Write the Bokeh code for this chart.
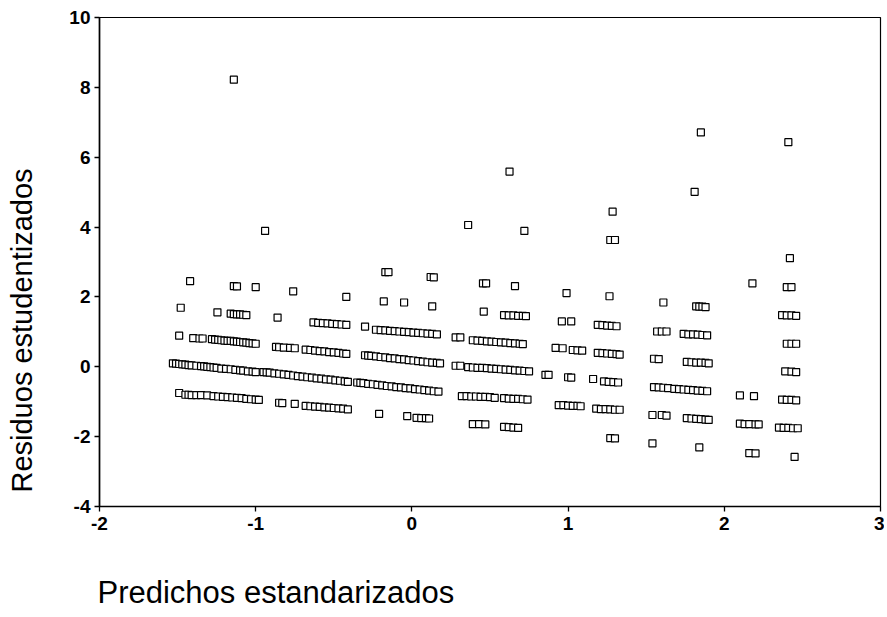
import math
from bokeh.plotting import figure
from bokeh.models import Range1d, FixedTicker, Label
from bokeh.embed import file_html
from bokeh.resources import INLINE

# ---------------- data ----------------
x_ticks = [-2, -1, 0, 1, 2, 3]
y_ticks = [-4, -2, 0, 2, 4, 6, 8, 10]
x_title = "Predichos estandarizados"
y_title = "Residuos estudentizados"

# group 1 : predicted -1.53 .. -0.98
x_g1 = [-1.14, -1.42, -1.14, -1.12, -1.00,
        -1.48, -1.245, -1.16, -1.14, -1.12, -1.10, -1.08, -1.06,
        -1.49, -1.40, -1.36, -1.34, -1.28, -1.26, -1.24, -1.22, -1.20, -1.18, -1.16, -1.14, -1.12, -1.10, -1.08, -1.06, -1.04, -1.02, -1.00,
        -1.53, -1.51, -1.49, -1.47, -1.45, -1.43, -1.41, -1.38, -1.35, -1.33, -1.31, -1.29, -1.27, -1.25, -1.22, -1.19, -1.16, -1.13, -1.10, -1.08, -1.05, -1.02, -1.00,
        -1.49, -1.45, -1.43, -1.41, -1.38, -1.35, -1.31, -1.27, -1.24, -1.21, -1.18, -1.15, -1.12, -1.09, -1.06, -1.03, -1.00, -0.98]
y_g1 = [8.22, 2.45, 2.31, 2.30, 2.28,
        1.69, 1.56, 1.52, 1.51, 1.50, 1.50, 1.49, 1.48,
        0.89, 0.82, 0.81, 0.81, 0.79, 0.78, 0.77, 0.76, 0.75, 0.74, 0.74, 0.73, 0.72, 0.71, 0.70, 0.69, 0.68, 0.67, 0.66,
        0.10, 0.09, 0.08, 0.07, 0.06, 0.05, 0.04, 0.03, 0.02, 0.01, 0.00, -0.01, -0.02, -0.03, -0.05, -0.06, -0.07, -0.09, -0.10, -0.11, -0.13, -0.14, -0.15,
        -0.75, -0.80, -0.80, -0.81, -0.81, -0.81, -0.82, -0.84, -0.85, -0.86, -0.87, -0.88, -0.89, -0.90, -0.92, -0.93, -0.94, -0.95]

# group 2 : predicted -0.95 .. -0.41
x_g2 = [-0.94, -0.76, -0.42, -0.86,
        -0.63, -0.60, -0.57, -0.54, -0.51, -0.48, -0.45, -0.42,
        -0.87, -0.85, -0.82, -0.78, -0.75, -0.68, -0.65, -0.62, -0.59, -0.56, -0.53, -0.50, -0.47, -0.44, -0.42,
        -0.95, -0.93, -0.91, -0.88, -0.85, -0.82, -0.79, -0.76, -0.73, -0.70, -0.67, -0.64, -0.61, -0.58, -0.55, -0.52, -0.49, -0.46, -0.43, -0.41,
        -0.85, -0.83, -0.75, -0.68, -0.65, -0.62, -0.59, -0.56, -0.53, -0.50, -0.47, -0.44, -0.41]
y_g2 = [3.89, 2.16, 2.00, 1.41,
        1.27, 1.26, 1.25, 1.24, 1.23, 1.22, 1.21, 1.20,
        0.57, 0.56, 0.55, 0.54, 0.53, 0.49, 0.48, 0.46, 0.45, 0.44, 0.42, 0.41, 0.40, 0.38, 0.37,
        -0.15, -0.16, -0.17, -0.19, -0.20, -0.22, -0.23, -0.25, -0.27, -0.28, -0.30, -0.31, -0.33, -0.34, -0.36, -0.37, -0.39, -0.40, -0.42, -0.43,
        -1.03, -1.04, -1.06, -1.12, -1.13, -1.14, -1.15, -1.16, -1.17, -1.18, -1.19, -1.20, -1.22]

# group 3 : predicted -0.35 .. 0.18
x_g3 = [-0.17, -0.15, 0.12, 0.14, -0.18, -0.05, 0.13,
        -0.30, -0.23, -0.20, -0.17, -0.14, -0.11, -0.08, -0.05, -0.02, 0.01, 0.04, 0.07, 0.10, 0.13, 0.16,
        -0.30, -0.28, -0.26, -0.23, -0.20, -0.17, -0.14, -0.11, -0.08, -0.05, -0.02, 0.01, 0.04, 0.07, 0.10, 0.13, 0.16, 0.18,
        -0.35, -0.33, -0.31, -0.28, -0.25, -0.22, -0.19, -0.16, -0.13, -0.10, -0.07, -0.04, -0.01, 0.02, 0.05, 0.08, 0.11, 0.14, 0.17,
        -0.21, -0.03, 0.03, 0.06, 0.09, 0.11]
y_g3 = [2.71, 2.71, 2.57, 2.56, 1.87, 1.84, 1.73,
        1.15, 1.06, 1.05, 1.04, 1.03, 1.02, 1.01, 1.00, 0.99, 0.98, 0.97, 0.96, 0.95, 0.94, 0.93,
        0.33, 0.32, 0.31, 0.30, 0.28, 0.27, 0.25, 0.24, 0.22, 0.21, 0.19, 0.18, 0.16, 0.15, 0.13, 0.12, 0.11, 0.10,
        -0.45, -0.46, -0.47, -0.49, -0.50, -0.52, -0.53, -0.55, -0.56, -0.58, -0.59, -0.61, -0.62, -0.64, -0.65, -0.67, -0.68, -0.70, -0.71,
        -1.35, -1.41, -1.46, -1.47, -1.47, -1.48]

# group 4 : predicted 0.28 .. 0.75
x_g4 = [0.36, 0.625, 0.72, 0.455, 0.475, 0.66, 0.46,
        0.59, 0.62, 0.65, 0.68, 0.71, 0.73,
        0.28, 0.31, 0.39, 0.42, 0.45, 0.48, 0.51, 0.54, 0.57, 0.60, 0.63, 0.66, 0.69, 0.71,
        0.28, 0.31, 0.36, 0.39, 0.42, 0.45, 0.48, 0.51, 0.54, 0.57, 0.60, 0.63, 0.66, 0.69, 0.72, 0.75,
        0.32, 0.35, 0.38, 0.41, 0.44, 0.47, 0.50, 0.53, 0.59, 0.62, 0.65, 0.68, 0.71, 0.74,
        0.39, 0.43, 0.47, 0.59, 0.62, 0.65, 0.68]
y_g4 = [4.06, 5.59, 3.89, 2.39, 2.39, 2.31, 1.58,
        1.48, 1.47, 1.47, 1.46, 1.46, 1.45,
        0.84, 0.84, 0.76, 0.75, 0.74, 0.73, 0.72, 0.71, 0.70, 0.69, 0.68, 0.67, 0.66, 0.65,
        0.03, 0.03, -0.01, -0.02, -0.03, -0.03, -0.04, -0.05, -0.06, -0.07, -0.08, -0.09, -0.10, -0.11, -0.12, -0.13,
        -0.84, -0.84, -0.85, -0.85, -0.86, -0.86, -0.87, -0.89, -0.90, -0.91, -0.92, -0.92, -0.93, -0.94,
        -1.64, -1.64, -1.65, -1.72, -1.73, -1.74, -1.75]

# group 5 : predicted 0.85 .. 1.33
x_g5 = [0.99, 1.265, 1.285, 1.27, 1.30,
        0.96, 1.02, 1.19, 1.22, 1.25, 1.28, 1.31,
        0.92, 0.965, 1.03, 1.06, 1.09, 1.19, 1.22, 1.25, 1.28, 1.31, 1.33,
        0.855, 0.875, 1.00, 1.02, 1.16, 1.23, 1.26, 1.29, 1.32,
        0.94, 0.97, 1.00, 1.03, 1.06, 1.08, 1.18, 1.21, 1.24, 1.27, 1.30, 1.33,
        1.27, 1.30]
y_g5 = [2.11, 2.02, 4.44, 3.63, 3.63,
        1.30, 1.30, 1.20, 1.19, 1.18, 1.17, 1.16,
        0.54, 0.53, 0.48, 0.47, 0.46, 0.40, 0.39, 0.38, 0.37, 0.36, 0.35,
        -0.23, -0.23, -0.30, -0.31, -0.35, -0.42, -0.43, -0.44, -0.45,
        -1.10, -1.10, -1.11, -1.12, -1.12, -1.13, -1.20, -1.21, -1.21, -1.22, -1.23, -1.23,
        -2.04, -2.05]

# group 6 : predicted 1.54 .. 1.90
x_g6 = [1.85, 1.81, 1.61, 1.82, 1.84, 1.86, 1.88,
        1.57, 1.60, 1.63, 1.74, 1.77, 1.80, 1.83, 1.86, 1.89,
        1.55, 1.58, 1.76, 1.79, 1.82, 1.85, 1.88, 1.90,
        1.55, 1.58, 1.61, 1.64, 1.68, 1.71, 1.74, 1.77, 1.80, 1.83, 1.86, 1.89,
        1.54, 1.60, 1.63, 1.76, 1.79, 1.82, 1.85, 1.88, 1.90,
        1.54, 1.84]
y_g6 = [6.71, 5.01, 1.84, 1.73, 1.72, 1.72, 1.71,
        1.01, 1.01, 1.01, 0.94, 0.93, 0.93, 0.92, 0.91, 0.90,
        0.23, 0.22, 0.14, 0.13, 0.12, 0.12, 0.11, 0.10,
        -0.58, -0.59, -0.60, -0.61, -0.63, -0.64, -0.65, -0.66, -0.67, -0.68, -0.69, -0.70,
        -1.38, -1.38, -1.40, -1.47, -1.48, -1.49, -1.50, -1.51, -1.52,
        -2.19, -2.31]

# group 7 : predicted 2.10 .. 2.47
x_g7 = [2.41, 2.42, 2.18, 2.40, 2.43,
        2.37, 2.40, 2.43, 2.46,
        2.40, 2.43, 2.46,
        2.39, 2.43, 2.46,
        2.10, 2.19, 2.37, 2.40, 2.43, 2.46,
        2.10, 2.13, 2.16, 2.20, 2.22, 2.35, 2.38, 2.41, 2.44, 2.47,
        2.16, 2.20, 2.45]
y_g7 = [6.43, 3.11, 2.39, 2.28, 2.28,
        1.48, 1.47, 1.47, 1.46,
        0.66, 0.66, 0.66,
        -0.13, -0.14, -0.15,
        -0.82, -0.84, -0.94, -0.95, -0.95, -0.96,
        -1.63, -1.64, -1.64, -1.65, -1.65, -1.74, -1.75, -1.75, -1.76, -1.76,
        -2.47, -2.48, -2.58]

predicted = x_g1 + x_g2 + x_g3 + x_g4 + x_g5 + x_g6 + x_g7
residuals = y_g1 + y_g2 + y_g3 + y_g4 + y_g5 + y_g6 + y_g7

# ---------------- figure ----------------
FONT = "Liberation Sans"
W, H = 884, 612
p = figure(width=W, height=H,
           x_range=Range1d(-2, 3), y_range=Range1d(-4, 10),
           output_backend="svg", toolbar_location=None,
           min_border_left=99, min_border_right=W - 880,
           min_border_top=17, min_border_bottom=H - 506)

p.background_fill_color = "white"
p.border_fill_color = "white"
p.outline_line_color = "black"
p.outline_line_width = 1.2
p.xgrid.visible = False
p.ygrid.visible = False

p.xaxis.ticker = FixedTicker(ticks=x_ticks)
p.yaxis.ticker = FixedTicker(ticks=y_ticks)
p.xaxis.major_label_overrides = {t: str(t) for t in x_ticks}
p.yaxis.major_label_overrides = {t: str(t) for t in y_ticks}
for ax in (p.xaxis[0], p.yaxis[0]):
    ax.axis_line_color = "black"
    ax.axis_line_width = 1.6
    ax.major_tick_line_color = "black"
    ax.major_tick_line_width = 1.3
    ax.major_tick_out = 5
    ax.major_tick_in = 0
    ax.minor_tick_line_color = None
    ax.major_label_text_font = FONT
    ax.major_label_text_font_style = "bold"
    ax.major_label_text_font_size = "19px"
    ax.major_label_text_color = "black"
p.yaxis.major_label_standoff = 4
p.xaxis.major_label_standoff = 5

p.scatter(predicted, residuals, marker="square", size=7,
          line_color="black", line_width=1.2, fill_color="white")

# titles placed in canvas pixels (measured from the top-left), living in the side panels
ylab = Label(x=21, y=330, x_units="canvas", y_units="canvas",
             text=y_title, angle=math.pi / 2, text_align="center",
             text_baseline="middle", text_font=FONT,
             text_font_size="29px", text_color="black")
xlab = Label(x=97, y=592, x_units="canvas", y_units="canvas",
             text=x_title, text_align="left", text_baseline="alphabetic",
             text_font=FONT, text_font_size="31px", text_color="black")
p.add_layout(ylab, "left")
p.add_layout(xlab, "below")

open("out.html", "w").write(file_html(p, INLINE))
